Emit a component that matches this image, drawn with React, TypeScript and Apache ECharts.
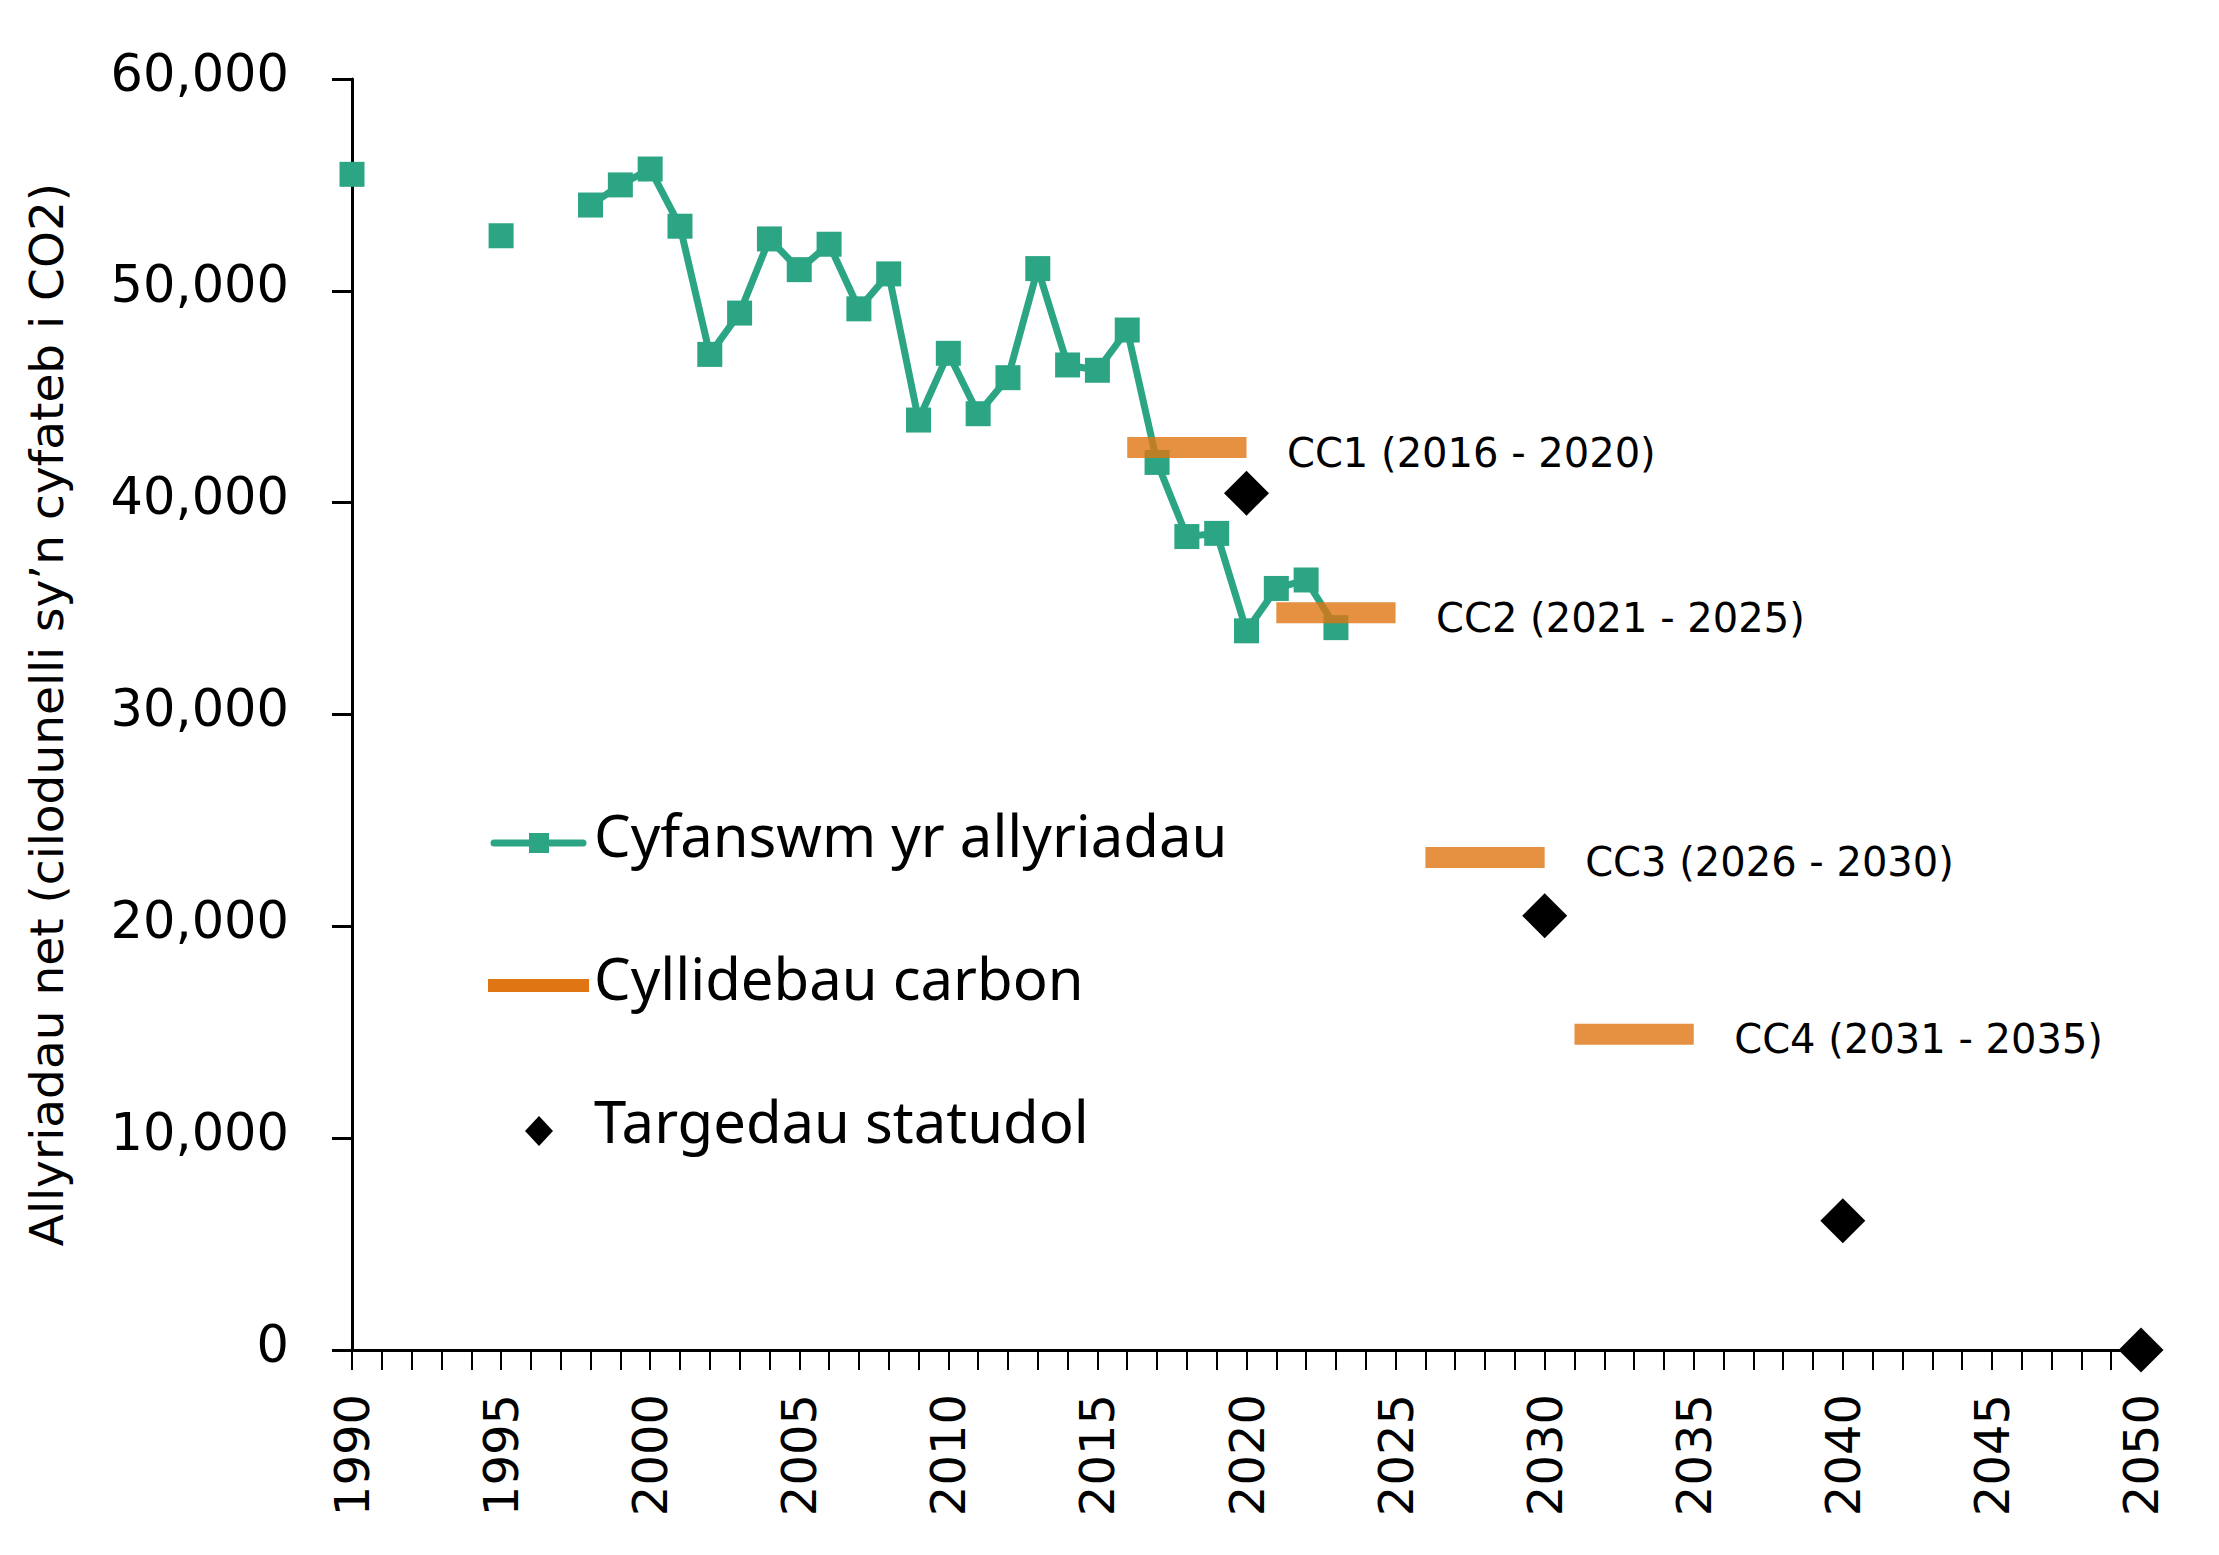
import React, { useEffect, useRef } from "react";
import * as echarts from "echarts";

// Net emissions (kt CO2e) by year; gaps are years with no published figure
const emissionYears = [1990, 1995, 1998, 1999, 2000, 2001, 2002, 2003, 2004, 2005, 2006, 2007, 2008, 2009, 2010, 2011, 2012, 2013, 2014, 2015, 2016, 2017, 2018, 2019, 2020, 2021, 2022, 2023];
const emissionValues = [55500, 52600, 54050, 55000, 55750, 53050, 47000, 48950, 52450, 51000, 52200, 49150, 50800, 43900, 47050, 44200, 45900, 51050, 46500, 46250, 48150, 41900, 38400, 38550, 33950, 35950, 36350, 34100];

// Carbon budgets (annual average over each period)
const budgetNames = ["CC1 (2016 - 2020)", "CC2 (2021 - 2025)", "CC3 (2026 - 2030)", "CC4 (2031 - 2035)"];
const budgetStart = [2016, 2021, 2026, 2031];
const budgetEnd = [2020, 2025, 2030, 2035];
const budgetValues = [42600, 34800, 23250, 14900];

// Statutory targets
const targetYears = [2020, 2030, 2040, 2050];
const targetValues = [40450, 20500, 6100, 0];

const yTicks = [0, 10000, 20000, 30000, 40000, 50000, 60000];

const legendLabels = ["Cyfanswm yr allyriadau", "Cyllidebau carbon", "Targedau statudol"];

const GREEN = "#2CA584";
const ORANGE = "#E07513";
const TICK_FONT = "DejaVu Sans";
const LEGEND_FONT = "Noto Sans";

export default function App() {
  const ref = useRef<HTMLDivElement>(null);

  useEffect(() => {
    if (!ref.current) return;
    const chart = echarts.init(ref.current, null, { renderer: "svg" });

    const firstYear = emissionYears[0];
    const lastYear = emissionYears[emissionYears.length - 1];
    const emissionData: any[] = [];
    for (let y = firstYear; y <= lastYear; y++) {
      const i = emissionYears.indexOf(y);
      emissionData.push([y, i >= 0 ? emissionValues[i] : "-"]);
    }

    const budgetSeries = budgetNames.map((name, i) => ({
      name: "Cyllidebau carbon",
      type: "line",
      z: 3,
      symbol: "none",
      silent: true,
      lineStyle: { color: ORANGE, width: 21, opacity: 0.8, cap: "butt" },
      data: [
        [budgetStart[i], budgetValues[i]],
        [budgetEnd[i], budgetValues[i]],
      ],
    }));

    const option: any = {
      animation: false,
      grid: { left: 352, right: 78, top: 79, bottom: 205 },
      xAxis: {
        type: "value",
        min: 1990,
        max: 2050,
        interval: 1,
        splitLine: { show: false },
        axisLine: { show: true, onZero: false, lineStyle: { color: "#000", width: 3 } },
        axisTick: { show: true, length: 20, lineStyle: { color: "#000", width: 2 } },
        axisLabel: {
          rotate: 90,
          margin: 44,
          fontFamily: TICK_FONT,
          fontSize: 48,
          color: "#000",
          formatter: (v: number) => (v % 5 === 0 ? String(v) : ""),
        },
      },
      yAxis: {
        type: "value",
        min: 0,
        max: 60000,
        interval: 10000,
        splitLine: { show: false },
        axisLine: { show: true, lineStyle: { color: "#000", width: 3 } },
        axisTick: { show: true, length: 20, lineStyle: { color: "#000", width: 3 } },
        axisLabel: {
          margin: 63,
          fontFamily: TICK_FONT,
          fontSize: 51,
          color: "#000",
          verticalAlign: "bottom",
          lineHeight: 12,
          formatter: (v: number) => (yTicks.includes(v) ? v.toLocaleString("en-US") : ""),
        },
        name: "Allyriadau net (cilodunelli sy\u2019n cyfateb i CO2)",
        nameLocation: "middle",
        nameGap: 282,
        nameRotate: 90,
        nameTextStyle: { fontFamily: TICK_FONT, fontSize: 47, color: "#000" },
      },
      series: [
        {
          name: "Cyfanswm yr allyriadau",
          type: "line",
          z: 2,
          connectNulls: false,
          symbol: "rect",
          symbolSize: 25,
          itemStyle: { color: GREEN, opacity: 1 },
          lineStyle: { color: GREEN, width: 7 },
          data: emissionData,
        },
        ...budgetSeries,
        {
          name: "budget-labels",
          type: "scatter",
          z: 4,
          symbolSize: 1,
          itemStyle: { color: "rgba(0,0,0,0)", opacity: 1 },
          label: {
            show: true,
            position: "right",
            distance: 40,
            offset: [0, 5],
            fontFamily: TICK_FONT,
            fontSize: 40,
            color: "#000",
            opacity: 1,
            formatter: (p: any) => budgetNames[p.dataIndex],
          },
          data: budgetEnd.map((x, i) => [x, budgetValues[i]]),
        },
        {
          name: "Targedau statudol",
          type: "scatter",
          z: 5,
          symbol: "diamond",
          symbolSize: [45, 45],
          itemStyle: { color: "#000", opacity: 1 },
          data: targetYears.map((x, i) => [x, targetValues[i]]),
        },
      ],
      graphic: [
        // legend: emissions
        { type: "line", shape: { x1: 494, y1: 843, x2: 583, y2: 843 }, style: { stroke: GREEN, lineWidth: 7, lineCap: "round" } },
        { type: "rect", shape: { x: 529, y: 833, width: 20, height: 20 }, style: { fill: GREEN } },
        {
          type: "text",
          x: 594,
          y: 834,
          style: { text: legendLabels[0], fontFamily: LEGEND_FONT, fontSize: 58, fill: "#000", verticalAlign: "middle" },
        },
        // legend: carbon budgets
        { type: "rect", shape: { x: 488, y: 979, width: 101, height: 13 }, style: { fill: ORANGE } },
        {
          type: "text",
          x: 594,
          y: 977,
          style: { text: legendLabels[1], fontFamily: LEGEND_FONT, fontSize: 58, fill: "#000", verticalAlign: "middle" },
        },
        // legend: statutory targets
        {
          type: "polygon",
          shape: { points: [[539, 1116], [553, 1131], [539, 1146], [525, 1131]] },
          style: { fill: "#000" },
        },
        {
          type: "text",
          x: 594,
          y: 1120,
          style: { text: legendLabels[2], fontFamily: LEGEND_FONT, fontSize: 58, fill: "#000", verticalAlign: "middle" },
        },
      ],
    };

    chart.setOption(option);
    return () => chart.dispose();
  }, []);

  return (
    <div
      ref={ref}
      style={{ position: "absolute", left: 0, top: 0, width: 2219, height: 1555, background: "#fff" }}
    />
  );
}
